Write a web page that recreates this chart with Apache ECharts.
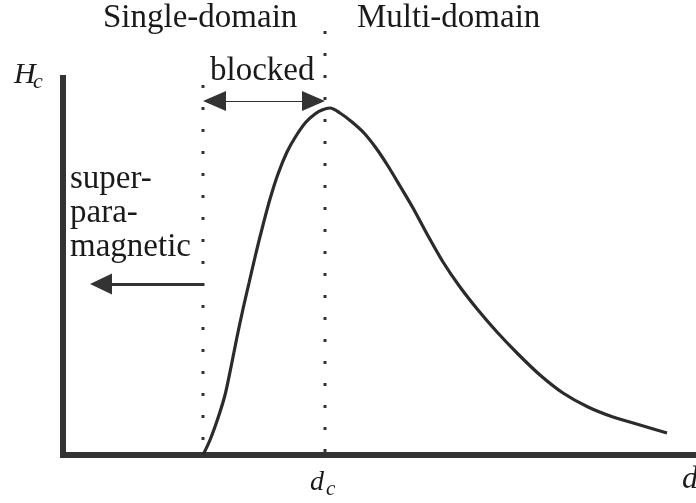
<!DOCTYPE html>
<html>
<head>
<meta charset="utf-8">
<script src="https://cdn.jsdelivr.net/npm/echarts@6/dist/echarts.min.js"></script>
<style>
  html, body { margin: 0; padding: 0; background: #fff; }
  #chart { width: 696px; height: 503px; }
</style>
</head>
<body>
<div id="chart"></div>
<script>
// Coercivity Hc versus particle size d (arbitrary units).
const curveD  = [140,147,155,162,168,174,180,186,193,200,207,215,224,233,243,252,259,267,277,289,301,313,325,337,350,364,380,397,415,434,455,477,500,525,550,577,604];
const curveHc = [0,15,37,60,88,118,146,172,202,230,256,281,303,319,333,341,345,347,342,333,322,307,289,269,247,221,193,168,145,123,101,80,62,48,38,30,22];

// Size boundaries: onset of blocking and the critical single/multi-domain size dc.
const blockedD = 140;
const criticalD = 262;
const blockedDotSpan = [370, 15];
const criticalDotSpan = [424, 0];

// Annotation arrows.
const blockedArrowHc = 354;
const blockedArrowEnds = [151.5, 250.5];
const superArrowHc = 171;
const superArrowEnds = [140, 38];

const ink = '#2b2b2b';
const serif = '"Liberation Serif", "Times New Roman", serif';

const chart = echarts.init(document.getElementById('chart'));

function dotted(x, span) {
  return {
    type: 'line',
    data: [[x, span[0]], [x, span[1]]],
    showSymbol: false,
    clip: false,
    silent: true,
    lineStyle: { color: '#333', width: 3, type: [3, 19], cap: 'butt' }
  };
}

function txt(text, x, y, size, italic) {
  return {
    type: 'text', x: x, y: y, silent: true,
    style: {
      text: text,
      font: (italic ? 'italic ' : '') + size + 'px ' + serif,
      fill: '#1a1a1a',
      textVerticalAlign: 'top'
    }
  };
}

chart.setOption({
  animation: false,
  backgroundColor: '#fff',
  grid: { left: 63, top: 78, width: 633, height: 377, containLabel: false },
  xAxis: {
    type: 'value', min: 0, max: 633,
    axisLine: { show: true, onZero: false, lineStyle: { color: '#333', width: 6 } },
    axisTick: { show: false }, axisLabel: { show: false }, splitLine: { show: false }
  },
  yAxis: {
    type: 'value', min: 0, max: 377,
    axisLine: { show: true, onZero: false, lineStyle: { color: '#333', width: 6, cap: 'square' } },
    axisTick: { show: false }, axisLabel: { show: false }, splitLine: { show: false }
  },
  series: [
    dotted(blockedD, blockedDotSpan),
    dotted(criticalD, criticalDotSpan),
    {
      type: 'line',
      data: curveD.map((d, i) => [d, curveHc[i]]),
      smooth: 0.3,
      showSymbol: false,
      silent: true,
      lineStyle: { color: ink, width: 3.2 },
      markLine: {
        silent: true,
        animation: false,
        label: { show: false },
        emphasis: { disabled: true },
        data: [
          [
            { coord: [blockedArrowEnds[0], blockedArrowHc], symbol: 'triangle', symbolSize: [20, 23] },
            { coord: [blockedArrowEnds[1], blockedArrowHc], symbol: 'triangle', symbolSize: [20, 23],
              lineStyle: { color: '#333', width: 1, type: 'solid' } }
          ],
          [
            { coord: [superArrowEnds[0], superArrowHc], symbol: 'none' },
            { coord: [superArrowEnds[1], superArrowHc], symbol: 'triangle', symbolSize: [21, 22],
              lineStyle: { color: '#333', width: 3, type: 'solid' } }
          ]
        ],
        itemStyle: { color: '#333' }
      }
    }
  ],
  graphic: [
    txt('Single-domain', 103, 2, 33),
    txt('Multi-domain', 357, 2, 33),
    txt('blocked', 210, 55, 33),
    txt('super-', 70, 163, 33),
    txt('para-', 70, 197, 33),
    txt('magnetic', 70, 231, 33),
    txt('H', 14, 60, 30, true),
    txt('c', 33, 71.5, 22, true),
    txt('d', 310, 469, 28, true),
    txt('c', 326, 478.5, 21, true),
    txt('d', 682, 464, 32, true)
  ]
});
</script>
</body>
</html>
